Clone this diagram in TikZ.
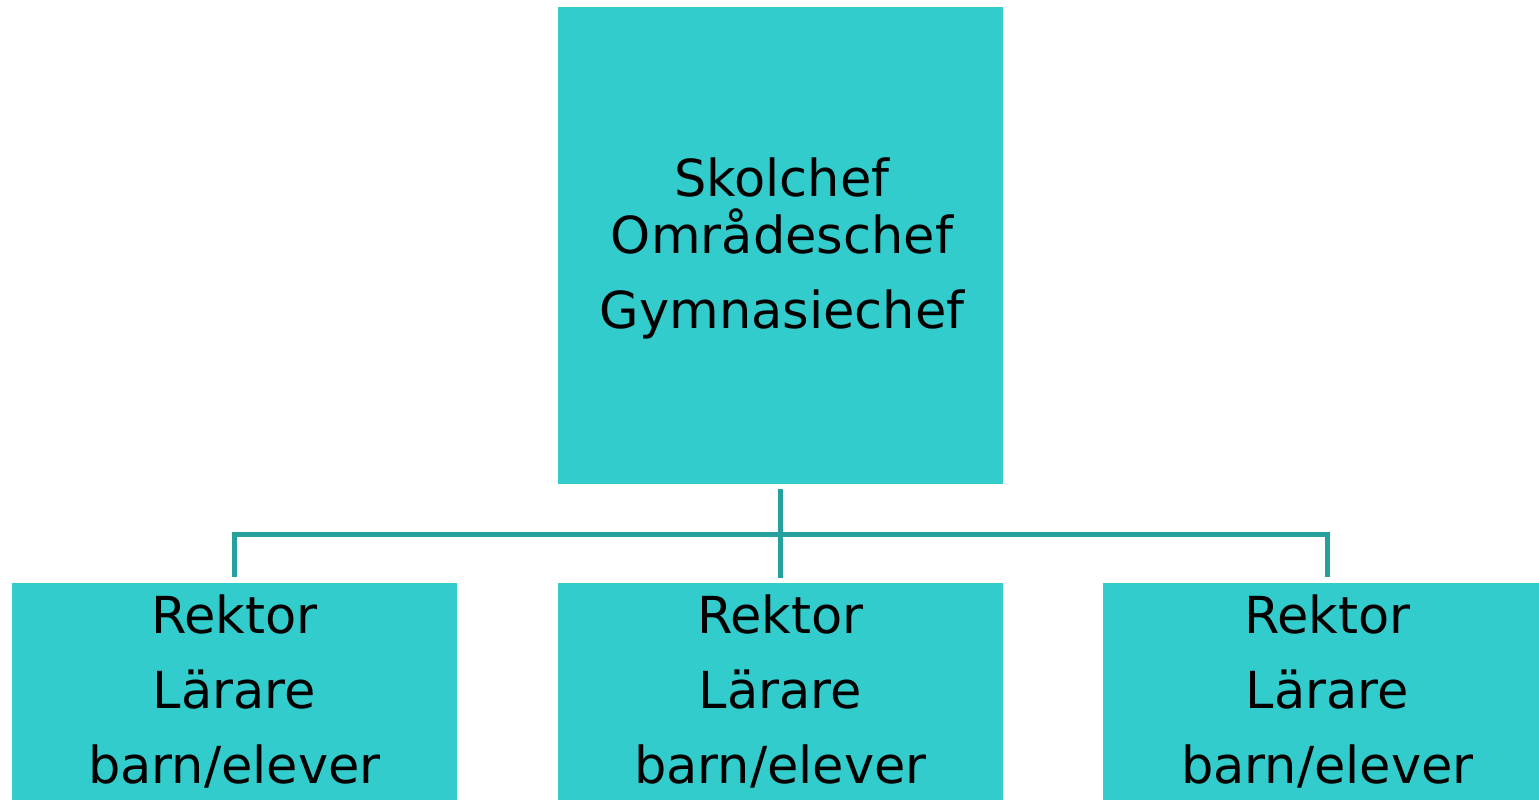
\documentclass[tikz,border=0pt]{standalone}
\usepackage{fontspec}
\setmainfont{DejaVu Sans}
\definecolor{boxfill}{RGB}{51,204,204}
\definecolor{linkline}{RGB}{38,161,158}
\tikzset{
  orgbox/.style={fill=boxfill, draw=none, minimum width=222.5pt, inner sep=0pt},
  orgtext/.style={anchor=north, align=center, inner sep=0pt, font=\fontsize{25.5pt}{37.5pt}\selectfont},
  link/.style={draw=linkline, line width=2.8pt}
}

\begin{document}
\begin{tikzpicture}[x=0.5pt,y=-0.5pt]
\clip (0,0) rectangle (1539,799);
\node[orgbox, minimum height=238.5pt] (chef)  at ( 780.5,245.5) {};
\node[orgbox, minimum height=116pt]   (left)  at ( 234.5,  699) {};
\node[orgbox, minimum height=116pt]   (mid)   at ( 780.5,  699) {};
\node[orgbox, minimum height=116pt, minimum width=224.5pt] (right) at (1327.5,699) {};

\node[orgtext, font=\fontsize{25.5pt}{28.5pt}\selectfont] (chefText) at (782,157) {Skolchef\\Områdeschef\\[9pt]Gymnasiechef};
\node[orgtext] (leftText)  at ( 234.5,594) {Rektor\\Lärare\\barn/elever};
\node[orgtext] (midText)   at ( 780.5,594) {Rektor\\Lärare\\barn/elever};
\node[orgtext] (rightText) at (1327.5,594) {Rektor\\Lärare\\barn/elever};

\draw[link, shorten <=2.5pt, shorten >=2.5pt] (chef.south) -- (mid.north);
\draw[link, shorten <=3pt, shorten >=3pt] (left.north) -- ++(0,-48) -| (right.north);
\end{tikzpicture}
\end{document}
